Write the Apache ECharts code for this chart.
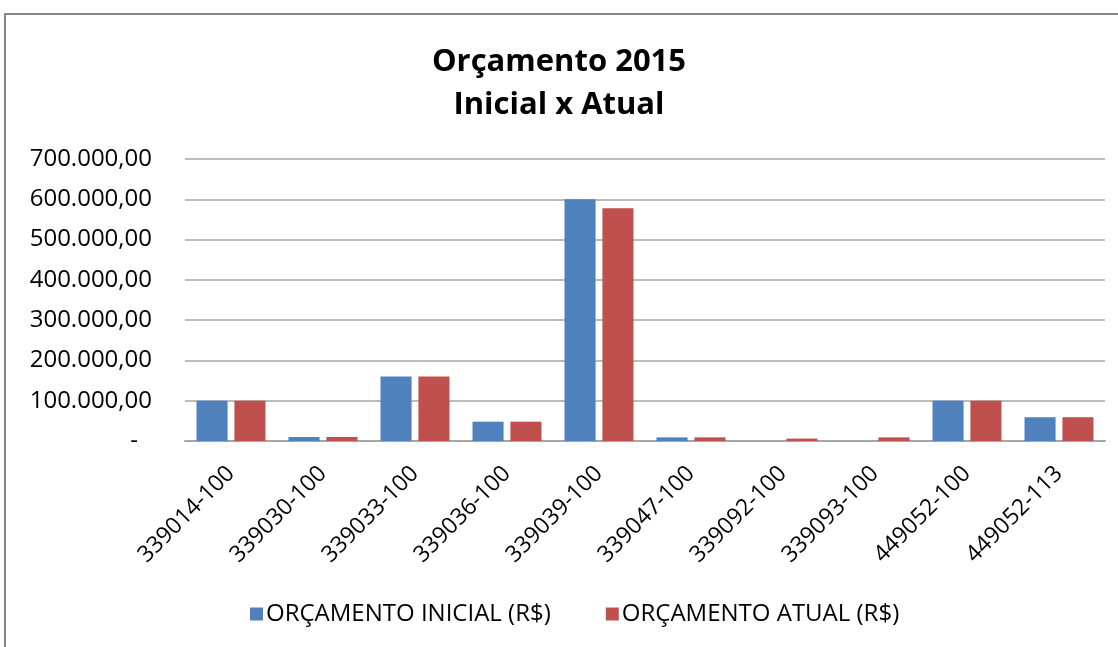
<!DOCTYPE html>
<html>
<head>
<meta charset="utf-8">
<script src="https://cdn.jsdelivr.net/npm/echarts@6/dist/echarts.min.js"></script>
<style>
  body { margin: 0; background: #fff; }
  #chartArea { position: absolute; left: 0; top: 0; width: 1118px; height: 647px; }
  #frame { position: absolute; left: 4px; top: 13px; width: 1114px; height: 634px;
           border-top: 2px solid #868686; border-left: 2px solid #868686; box-sizing: border-box;
           pointer-events: none; }
</style>
</head>
<body>
<div id="chartArea"></div>
<div id="frame"></div>
<script>
let categories = ['339014-100', '339030-100', '339033-100', '339036-100', '339039-100',
    '339047-100', '339092-100', '339093-100', '449052-100', '449052-113'];
let inicial = [100000, 10000, 160000, 48000, 600000, 9000, 0, 0, 100000, 59000];
let atual = [100000, 10000, 160000, 48000, 578000, 9000, 6000, 9000, 100000, 59000];
let seriesNames = ['ORÇAMENTO INICIAL (R$)', 'ORÇAMENTO ATUAL (R$)'];

let blue = '#4f81bd';
let red = '#c0504d';
let fontName = '"Open Sans", sans-serif';

function formatBRL(v) {
    if (v === 0) {
        // zero shows as a dash, like the accounting format
        return '{dash|-}';
    }
    let parts = v.toFixed(2).split('.');
    let intPart = parts[0].replace(/\B(?=(\d{3})+(?!\d))/g, '.');
    return intPart + ',' + parts[1];
}

let dom = document.getElementById('chartArea');
let myChart = echarts.init(dom);

let option = {
    animation: false,
    textStyle: {fontFamily: fontName},
    title: {
        text: 'Orçamento 2015\nInicial x Atual',
        left: 'center',
        top: 36,
        textStyle: {
            fontFamily: fontName,
            fontSize: 31,
            fontWeight: 'bold',
            color: '#000',
            lineHeight: 43
        }
    },
    legend: {
        data: seriesNames,
        bottom: 16,
        left: 245,
        itemWidth: 13,
        itemHeight: 13,
        itemGap: 55,
        icon: 'rect',
        textStyle: {fontFamily: fontName, fontSize: 24, color: '#000', padding: [0, 0, 0, -2]}
    },
    grid: {
        left: 185,
        right: 13,
        top: 159,
        bottom: 206,
        containLabel: false
    },
    xAxis: {
        type: 'category',
        data: categories,
        axisTick: {show: false},
        axisLine: {lineStyle: {color: '#a6a6a6', width: 2}},
        axisLabel: {
            rotate: 45,
            interval: 0,
            margin: 29,
            fontFamily: fontName,
            fontSize: 23,
            color: '#000'
        }
    },
    yAxis: {
        type: 'value',
        min: 0,
        max: 700000,
        interval: 100000,
        axisLine: {show: false},
        axisTick: {show: false},
        splitLine: {lineStyle: {color: '#a6a6a6', width: 1.5}},
        axisLabel: {
            formatter: formatBRL,
            margin: 33,
            fontFamily: fontName,
            fontSize: 24,
            color: '#000',
            rich: {
                dash: {fontFamily: fontName, fontSize: 24, color: '#000', padding: [0, 14, 0, 0]}
            }
        }
    },
    series: [
        {
            name: seriesNames[0],
            type: 'bar',
            data: inicial,
            barGap: '22%',
            barCategoryGap: '25%',
            itemStyle: {color: blue}
        },
        {
            name: seriesNames[1],
            type: 'bar',
            data: atual,
            itemStyle: {color: red}
        }
    ]
};

myChart.setOption(option);
</script>
</body>
</html>
